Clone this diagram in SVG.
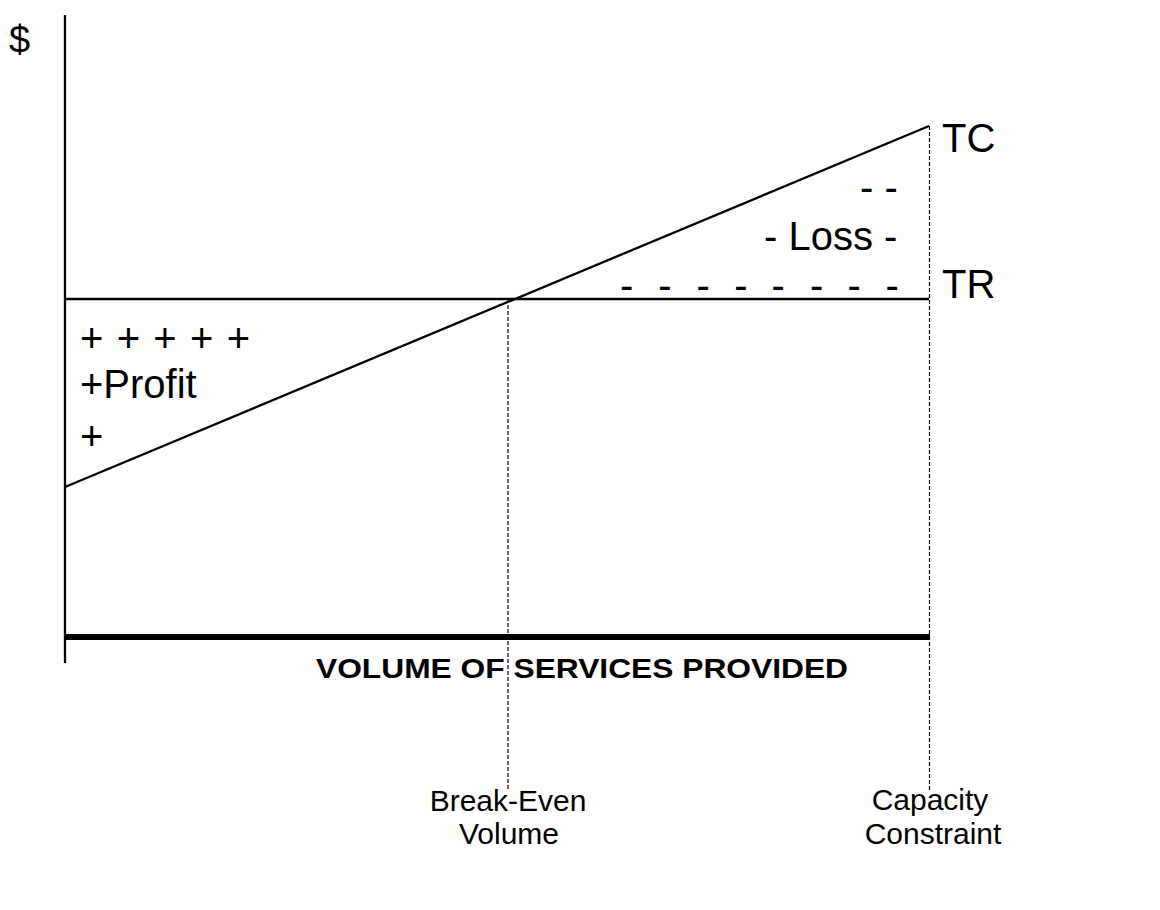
<svg xmlns="http://www.w3.org/2000/svg" width="1160" height="910" viewBox="0 0 1160 910">
  <style>
    .ln { stroke: #000; stroke-width: 2.3; fill: none; }
    .axis { stroke: #000; stroke-width: 6; fill: none; }
    .dash { stroke: #000; stroke-width: 1.2; stroke-dasharray: 4 2; fill: none; }
    .big { font-family: "Liberation Sans", Arial, sans-serif; font-size: 40px; fill: #000; }
    .lbl { font-family: "Liberation Sans", Arial, sans-serif; font-size: 30px; fill: #000; text-anchor: middle; }
    .ttl { font-family: "Liberation Sans", Arial, sans-serif; font-size: 28px; font-weight: bold; fill: #000; }
  </style>
  <rect width="1160" height="910" fill="#fff"/>
  <g id="connectors">
    <line class="ln" x1="65" y1="15" x2="65" y2="663"/>
    <line class="axis" x1="65" y1="637" x2="930" y2="637"/>
    <line class="ln" x1="65" y1="299" x2="929" y2="299"/>
    <line class="ln" x1="65" y1="487" x2="929" y2="126"/>
    <line class="dash" x1="508" y1="299" x2="508" y2="790"/>
    <line class="dash" x1="929.5" y1="126" x2="929.5" y2="790"/>
  </g>
  <g id="y-label">
    <text x="9" y="53" class="big" style="font-size:38px">$</text>
  </g>
  <g id="tc-label">
    <text x="942" y="152" class="big">TC</text>
  </g>
  <g id="tr-label">
    <text x="942" y="298" class="big">TR</text>
  </g>
  <g id="loss">
    <text x="860" y="201" class="big">- -</text>
    <text x="764" y="250" class="big">- Loss -</text>
    <text y="299" class="big" x="620 633 658.2 671 696.5 709 734.2 747 771.5 785 810 823 847.5 861 885.5">- - - - - - - -</text>
  </g>
  <g id="profit">
    <text x="80" y="352" class="big" textLength="170" lengthAdjust="spacing">+ + + + +</text>
    <text x="80" y="398" class="big">+Profit</text>
    <text x="80" y="450" class="big">+</text>
  </g>
  <g id="x-title">
    <text x="316" y="678" class="ttl" textLength="532" lengthAdjust="spacingAndGlyphs">VOLUME OF SERVICES PROVIDED</text>
  </g>
  <g id="break-even">
    <text x="508" y="811" class="lbl">Break-Even</text>
    <text x="509" y="844" class="lbl">Volume</text>
  </g>
  <g id="capacity">
    <text x="930" y="810" class="lbl">Capacity</text>
    <text x="933" y="844" class="lbl">Constraint</text>
  </g>
</svg>
